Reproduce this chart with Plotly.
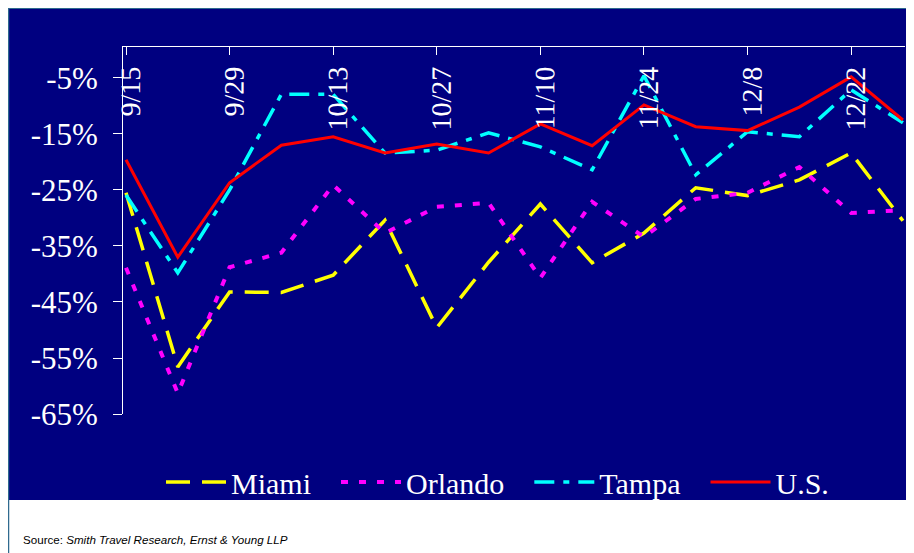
import plotly.graph_objects as go

weeks = ["9/15", "9/22", "9/29", "10/6", "10/13", "10/20", "10/27", "11/3",
         "11/10", "11/17", "11/24", "12/1", "12/8", "12/15", "12/22", "12/29"]
miami = [-25.5, -56.6, -43.2, -43.3, -40.2, -30.4, -49.6, -37.9,
         -27.5, -38.0, -32.7, -24.6, -26.0, -23.2, -18.4, -30.5]
orlando = [-38.9, -61.3, -38.8, -36.2, -24.1, -32.7, -28.0, -27.3,
           -40.7, -27.1, -33.4, -26.6, -25.5, -20.9, -29.1, -28.6]
tampa = [-25.9, -39.8, -25.0, -7.9, -7.9, -18.4, -17.9, -14.8,
         -17.3, -21.4, -4.6, -22.3, -14.6, -15.5, -7.1, -13.0]
us = [-19.6, -37.0, -23.7, -17.0, -15.5, -18.4, -16.8, -18.4,
      -13.2, -17.1, -9.8, -13.7, -14.4, -10.2, -4.8, -12.5]
tick_weeks = ["9/15", "9/29", "10/13", "10/27", "11/10", "11/24", "12/8", "12/22"]
y_ticks = [-65, -55, -45, -35, -25, -15, -5]
y_tick_text = ["-65%", "-55%", "-45%", "-35%", "-25%", "-15%", "-5%"]

# page body keeps an 8px margin, so the figure starts at (8, 8); it runs to the window edge
W, H, OFF = 906, 545, 8
NAVY = "#000080"
EDGE = "#2F6A8E"
SERIF = "Liberation Serif, Times New Roman, serif"

x_idx = list(range(len(weeks)))
tick_idx = [weeks.index(w) for w in tick_weeks]


def fx(p):
    return (p - OFF) / W


def fy(p):
    return (H - (p - OFF)) / H


fig = go.Figure()
series = [
    ("Miami", miami, "#FFFF00", "24px,12px", 3.5),
    ("Orlando", orlando, "#FF00FF", "7px,11px", 4),
    ("Tampa", tampa, "#00FFFF", "20px,9px,6px,9px", 3.5),
    ("U.S.", us, "#FF0000", "solid", 3),
]
pad = "\u00a0\u00a0\u2006"
for name, vals, col, dash, w in series:
    fig.add_trace(go.Scatter(
        x=x_idx, y=vals, name=name + pad, mode="lines",
        line=dict(color=col, dash=dash, width=w),
        text=weeks,
        hovertemplate="%{text}: %{y}%<extra>" + name + "</extra>",
    ))

fig.update_layout(
    width=W, height=H, autosize=False,
    margin=dict(l=0, r=0, t=0, b=0, pad=0, autoexpand=False),
    paper_bgcolor="white",
    plot_bgcolor="rgba(0,0,0,0)",
    showlegend=True,
    legend=dict(
        orientation="h", x=fx(161), xanchor="left", y=fy(482), yanchor="middle",
        bgcolor="rgba(0,0,0,0)", font=dict(family=SERIF, size=30, color="white"),
        itemwidth=60, tracegroupgap=0,
    ),
    xaxis=dict(
        domain=[fx(123), fx(905)],
        range=[-0.058, 15.04],
        side="bottom", anchor="free", position=fy(46),
        automargin=False,
        showgrid=False, zeroline=False,
        showline=True, linecolor="white", linewidth=1,
        tickmode="array", tickvals=tick_idx, ticktext=tick_weeks,
        ticks="outside", ticklen=8, tickcolor="white", tickwidth=1,
        tickangle=-89.9, ticklabelstandoff=-8,
        tickfont=dict(family=SERIF, size=28, color="white"),
        fixedrange=True,
    ),
    yaxis=dict(
        domain=[fy(414), fy(46)],
        range=[-65, 0.71],
        automargin=False,
        showgrid=False, zeroline=False,
        showline=True, linecolor="white", linewidth=1,
        tickmode="array", tickvals=y_ticks, ticktext=y_tick_text,
        ticks="outside", ticklen=9, tickcolor="white", tickwidth=1,
        ticklabelstandoff=9,
        tickfont=dict(family=SERIF, size=31, color="white"),
        fixedrange=True,
    ),
    shapes=[
        dict(type="rect", xref="paper", yref="paper", layer="below",
             x0=fx(9), x1=1.0, y0=fy(500), y1=1.0,
             fillcolor=NAVY, line=dict(width=0)),
        dict(type="line", xref="paper", yref="paper", layer="below",
             x0=0, x1=1.0, y0=1 - 0.5 / H, y1=1 - 0.5 / H,
             line=dict(color=EDGE, width=1)),
        dict(type="line", xref="paper", yref="paper", layer="below",
             x0=0.5 / W, x1=0.5 / W, y0=0, y1=1.0,
             line=dict(color=EDGE, width=1.5)),
    ],
    annotations=[
        dict(xref="paper", yref="paper", x=fx(21), y=fy(539),
             xanchor="left", yanchor="middle", showarrow=False,
             text="Source: <i>Smith Travel Research, Ernst &amp; Young LLP</i>",
             font=dict(family="Liberation Sans Narrow, Liberation Sans, Arial, sans-serif",
                       size=11.6, color="black")),
    ],
)

fig.write_html("out.html")
